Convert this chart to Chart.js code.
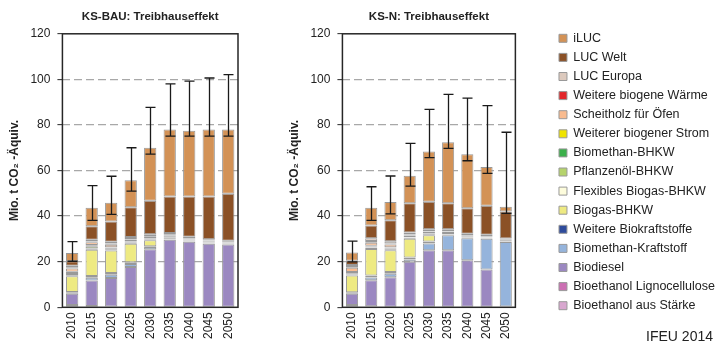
<!DOCTYPE html>
<html>
<head>
<meta charset="utf-8">
<script src="https://cdn.jsdelivr.net/npm/chart.js@4.4.1/dist/chart.umd.min.js"></script>
<style>
  html, body { margin: 0; padding: 0; background: #fff; }
  #wrap { position: relative; width: 717px; height: 344px; overflow: hidden; }
  #bauChart { position: absolute; left: 0; top: 0; }
  #nChart { position: absolute; left: 262px; top: 0; }
  #source { position: absolute; right: 4px; top: 328px; font: 14px 'Liberation Sans', Arial, sans-serif; line-height: 16px; color: #222; }
</style>
</head>
<body>
<div id="wrap">
  <canvas id="bauChart" width="262" height="344"></canvas>
  <canvas id="nChart" width="465" height="344"></canvas>
  <div id="source">IFEU 2014</div>
</div>
<script>
const years = ['2010', '2015', '2020', '2025', '2030', '2035', '2040', '2045', '2050'];

// stacking order bottom -> top (legend shows it reversed)
const seriesNames = [
  'Bioethanol aus Stärke', 'Bioethanol Lignocellulose', 'Biodiesel', 'Biomethan-Kraftstoff',
  'Weitere Biokraftstoffe', 'Biogas-BHKW', 'Flexibles Biogas-BHKW', 'Pflanzenöl-BHKW',
  'Biomethan-BHKW', 'Weiterer biogener Strom', 'Scheitholz für Öfen', 'Weitere biogene Wärme',
  'LUC Europa', 'LUC Welt', 'iLUC'
];
const seriesColors = [
  '#d8a7cf', '#cc6fb3', '#9b88c1', '#95b4dc',
  '#2e4b9b', '#eeea82', '#fdfcdc', '#b5d36c',
  '#3bb04b', '#f0e400', '#f9bb8f', '#e3262b',
  '#dcc9bd', '#8b5126', '#d39256'
];

// KS-BAU (Mio. t CO2-Äquiv.)
const bauStaerke   = [1.0, 0.6, 0.3, 0, 0, 0, 0, 0, 0];
const bauLigno     = [0, 0, 0, 0, 0, 0, 0, 0, 0];
const bauBiodiesel = [5.0, 11.2, 12.6, 17.7, 25.5, 29.6, 28.8, 27.9, 27.6];
const bauBmKraft   = [0.4, 1.2, 1.4, 1.3, 1.0, 0.3, 0.2, 0.2, 0.2];
const bauWeitKraft = [0.3, 0.7, 0.8, 0.8, 0.3, 0.2, 0.2, 0.2, 0.1];
const bauBiogas    = [6.9, 11.6, 9.8, 8.1, 2.6, 0, 0, 0, 0];
const bauFlex      = [0.2, 0.5, 0.6, 0.5, 0.4, 0.3, 0.2, 0.2, 0.2];
const bauPflanz    = [0.8, 1.0, 0.4, 0.3, 0.2, 0.2, 0.1, 0.1, 0.1];
const bauBmBhkw    = [0.4, 0.2, 0.2, 0.2, 0.2, 0.2, 0.1, 0.1, 0.1];
const bauStrom     = [0.6, 0.3, 0.2, 0.2, 0.2, 0.2, 0.2, 0.2, 0.1];
const bauScheit    = [1.4, 1.2, 1.2, 0.6, 0.5, 0.5, 0.4, 0.3, 0.3];
const bauWaerme    = [0.6, 0.4, 0.5, 0.3, 0.3, 0.3, 0.2, 0.2, 0.1];
const bauLucEu     = [0.6, 0.7, 0.8, 0.8, 0.8, 0.8, 0.6, 0.5, 0.4];
const bauLucWelt   = [2.0, 6.0, 8.9, 13.1, 14.8, 16.0, 17.6, 18.7, 20.6];
const bauIluc      = [3.6, 8.1, 8.2, 11.8, 23.2, 29.4, 28.9, 29.4, 28.2];
const bauErrLow    = [20.2, 38.1, 40.8, 51.0, 67.2, 75.1, 75.1, 75.1, 75.1];
const bauErrHigh   = [28.8, 53.4, 57.5, 70.0, 87.7, 98.0, 99.2, 100.6, 102.1];

// KS-N
const nStaerke   = [1.0, 0.5, 0.2, 0, 0, 0, 0, 0, 0];
const nLigno     = [0, 0, 0, 0, 0, 0, 0, 0, 0];
const nBiodiesel = [5.0, 11.4, 13.0, 20.0, 25.0, 25.0, 20.6, 16.6, 0.3];
const nBmKraft   = [0.3, 1.2, 1.5, 1.0, 3.0, 6.6, 9.7, 13.5, 28.3];
const nWeitKraft = [0.3, 0.8, 0.8, 0.9, 0.9, 0.2, 0.2, 0.2, 0.1];
const nBiogas    = [7.3, 11.7, 9.5, 8.2, 2.7, 0, 0, 0, 0];
const nFlex      = [0.3, 0.5, 0.5, 0.3, 0.4, 0.2, 0.2, 0.2, 0.2];
const nPflanz    = [0.2, 0.3, 0.3, 0.1, 0.2, 0.1, 0.1, 0.1, 0.1];
const nBmBhkw    = [0.5, 0.3, 0.3, 0.1, 0.2, 0.1, 0.1, 0.1, 0.1];
const nStrom     = [0.6, 0.3, 0.3, 0.1, 0.2, 0.4, 0.2, 0.1, 0.1];
const nScheit    = [1.8, 1.3, 1.2, 0.8, 0.5, 0.5, 0.4, 0.3, 0.3];
const nWaerme    = [0.4, 0.8, 0.4, 0.4, 0.3, 0.3, 0.2, 0.2, 0.2];
const nLucEu     = [0.9, 1.2, 1.0, 0.9, 0.8, 0.8, 0.6, 0.5, 0.5];
const nLucWelt   = [1.8, 5.6, 9.2, 12.8, 12.1, 11.5, 11.2, 12.8, 11.8];
const nIluc      = [3.6, 7.8, 8.0, 12.1, 22.1, 26.7, 23.7, 17.0, 2.1];
const nErrLow    = [19.9, 38.1, 41.0, 53.2, 65.7, 69.7, 64.3, 58.8, 41.2];
const nErrHigh   = [29.0, 52.9, 57.6, 71.9, 86.8, 93.4, 91.8, 88.5, 76.8];

const yTicks = [0, 20, 40, 60, 80, 100, 120];

const bauSeries = [bauStaerke, bauLigno, bauBiodiesel, bauBmKraft, bauWeitKraft, bauBiogas, bauFlex,
  bauPflanz, bauBmBhkw, bauStrom, bauScheit, bauWaerme, bauLucEu, bauLucWelt, bauIluc];
const nSeries = [nStaerke, nLigno, nBiodiesel, nBmKraft, nWeitKraft, nBiogas, nFlex,
  nPflanz, nBmBhkw, nStrom, nScheit, nWaerme, nLucEu, nLucWelt, nIluc];

Chart.defaults.font.family = "'Liberation Sans', Arial, sans-serif";
Chart.defaults.color = '#222';

function makeDatasets(series) {
  return series.map((data, i) => ({
    label: seriesNames[i],
    data,
    backgroundColor: seriesColors[i],
    borderColor: '#999',
    borderWidth: 1,
    borderSkipped: false,
    barPercentage: 0.63,
    categoryPercentage: 1
  }));
}

// plot frame (all four sides)
const framePlugin = {
  id: 'frame',
  afterDatasetsDraw(chart) {
    const { ctx, chartArea: a } = chart;
    ctx.save();
    ctx.strokeStyle = '#262626';
    ctx.lineWidth = 1.5;
    ctx.strokeRect(a.left, a.top, a.right - a.left, a.bottom - a.top);
    ctx.restore();
  }
};

// uncertainty whiskers on top of the stacks
const errorBarPlugin = {
  id: 'errorBars',
  afterDatasetsDraw(chart, args, opts) {
    const meta = chart.getDatasetMeta(chart.data.datasets.length - 1);
    const y = chart.scales.y;
    const ctx = chart.ctx;
    ctx.save();
    ctx.strokeStyle = '#1a1a1a';
    ctx.lineWidth = 1.3;
    opts.low.forEach((lo, i) => {
      const x = Math.round(meta.data[i].x) + 0.5;
      const yl = y.getPixelForValue(lo);
      const yh = y.getPixelForValue(opts.high[i]);
      ctx.beginPath();
      ctx.moveTo(x, yh); ctx.lineTo(x, yl);
      ctx.moveTo(x - 5, yh); ctx.lineTo(x + 5, yh);
      ctx.moveTo(x - 5, yl); ctx.lineTo(x + 5, yl);
      ctx.stroke();
    });
    ctx.restore();
  }
};

// the layout caps a side legend at a fraction of the width; let it take what it needs
const legendWidthPlugin = {
  id: 'legendWidth',
  beforeLayout(chart) {
    const lg = chart.legend;
    if (!lg || lg._wideFit) return;
    const fit = lg.fit;
    lg.fit = function () { this.maxWidth = 300; fit.call(this); };
    lg._wideFit = true;
  }
};

function makeScales(extraRight) {
  const scales = {
    x: {
      stacked: true,
      grid: { display: false, drawTicks: false },
      border: { display: false },
      ticks: { minRotation: 90, maxRotation: 90, padding: 5, font: { size: 12 }, color: '#222' }
    },
    y: {
      stacked: true,
      min: 0,
      max: 120,
      afterBuildTicks: s => { s.ticks = yTicks.map(v => ({ value: v })); },
      grid: {
        color: c => (c.tick && (c.tick.value === 0 || c.tick.value === 120)) ? 'rgba(0,0,0,0)' : '#a8a8a8',
        lineWidth: 1.3,
        tickLength: 5,
        tickColor: '#262626',
        tickWidth: 1
      },
      border: { display: false, dash: [8, 4] },
      ticks: { padding: 7, font: { size: 12 }, color: '#222' },
      title: {
        display: true,
        text: 'Mio. t CO₂ -Äquiv.',
        font: { size: 12, weight: 'bold' },
        color: '#222',
        padding: { top: 2, bottom: 2 }
      }
    }
  };
  if (extraRight) {
    // empty spacer between plot and legend
    scales.gap = {
      position: 'right',
      display: true,
      grid: { display: false, drawTicks: false },
      border: { display: false },
      ticks: { display: false },
      afterFit: s => { s.width = extraRight; }
    };
  }
  return scales;
}

new Chart(document.getElementById('bauChart'), {
  type: 'bar',
  data: { labels: years, datasets: makeDatasets(bauSeries) },
  options: {
    responsive: false,
    animation: false,
    layout: { padding: { left: 5, right: 24, top: 0, bottom: 0 } },
    scales: makeScales(0),
    plugins: {
      legend: { display: false },
      tooltip: { enabled: false },
      title: {
        display: true,
        text: 'KS-BAU: Treibhauseffekt',
        fullSize: false,
        font: { size: 11.5, weight: 'bold' },
        color: '#222',
        padding: { top: 10, bottom: 10 }
      },
      errorBars: { low: bauErrLow, high: bauErrHigh }
    }
  },
  plugins: [framePlugin, errorBarPlugin]
});

new Chart(document.getElementById('nChart'), {
  type: 'bar',
  data: { labels: years, datasets: makeDatasets(nSeries) },
  options: {
    responsive: false,
    animation: false,
    layout: { padding: { left: 23, right: 2, top: 0, bottom: 0 } },
    scales: makeScales(37),
    plugins: {
      legend: {
        display: true,
        position: 'right',
        align: 'center',
        reverse: true,
        labels: {
          boxWidth: 8,
          boxHeight: 8,
          padding: 6.6,
          font: { size: 12.5 },
          color: '#222'
        }
      },
      tooltip: { enabled: false },
      title: {
        display: true,
        text: 'KS-N: Treibhauseffekt',
        fullSize: false,
        font: { size: 11.5, weight: 'bold' },
        color: '#222',
        padding: { top: 10, bottom: 10 }
      },
      errorBars: { low: nErrLow, high: nErrHigh }
    }
  },
  plugins: [legendWidthPlugin, framePlugin, errorBarPlugin]
});
</script>
</body>
</html>
